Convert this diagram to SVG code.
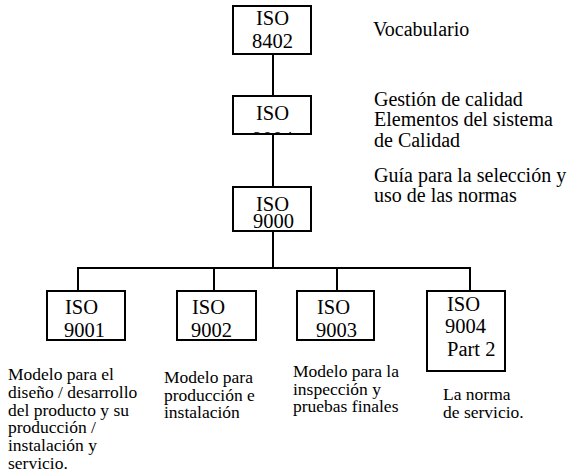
<svg xmlns="http://www.w3.org/2000/svg" width="583" height="476" viewBox="0 0 583 476">
<style>
.box{fill:#fff;stroke:#000;stroke-width:2}
.ln{stroke:#000;stroke-width:2;fill:none}
</style>
<defs>
<clipPath id="c9004"><rect x="233" y="96" width="78" height="38"/></clipPath>
</defs>
<rect width="583" height="476" fill="#fff"/>
<g id="connectors">
<line class="ln" x1="273" y1="54" x2="273" y2="96"/>
<line class="ln" x1="273" y1="134" x2="273" y2="187"/>
<line class="ln" x1="273" y1="231" x2="273" y2="268"/>
<line class="ln" x1="77" y1="268" x2="471" y2="268"/>
<line class="ln" x1="78" y1="268" x2="78" y2="291"/>
<line class="ln" x1="214" y1="268" x2="214" y2="291"/>
<line class="ln" x1="337" y1="268" x2="337" y2="291"/>
<line class="ln" x1="470" y1="268" x2="470" y2="291"/>
</g>
<g id="iso8402">
<rect class="box" x="233" y="6" width="78" height="48"/>
<text x="256" y="25" font-family="Liberation Serif" font-size="20.5">ISO</text>
<text x="252" y="48" font-family="Liberation Serif" font-size="20.5">8402</text>
</g>
<g id="iso9004">
<rect class="box" x="233" y="96" width="78" height="38"/>
<g clip-path="url(#c9004)">
<text x="256" y="120" font-family="Liberation Serif" font-size="20.5">ISO</text>
<text x="252" y="146" font-family="Liberation Serif" font-size="20.5">9004</text>
</g>
</g>
<g id="iso9000">
<rect class="box" x="233" y="187" width="78" height="44"/>
<text x="256" y="211" font-family="Liberation Serif" font-size="20.5">ISO</text>
<text x="253" y="228" font-family="Liberation Serif" font-size="20.5">9000</text>
</g>
<g id="iso9001">
<rect class="box" x="47" y="291" width="78" height="49"/>
<text x="65" y="314" font-family="Liberation Serif" font-size="20.5">ISO</text>
<text x="64" y="337" font-family="Liberation Serif" font-size="20.5">9001</text>
</g>
<g id="iso9002">
<rect class="box" x="177" y="291" width="79" height="49"/>
<text x="192" y="314" font-family="Liberation Serif" font-size="20.5">ISO</text>
<text x="191" y="337" font-family="Liberation Serif" font-size="20.5">9002</text>
</g>
<g id="iso9003">
<rect class="box" x="297" y="291" width="77" height="49"/>
<text x="317" y="314" font-family="Liberation Serif" font-size="20.5">ISO</text>
<text x="316" y="337" font-family="Liberation Serif" font-size="20.5">9003</text>
</g>
<g id="iso9004p2">
<rect class="box" x="427" y="291" width="78" height="80"/>
<text x="447" y="311" font-family="Liberation Serif" font-size="20.5">ISO</text>
<text x="445" y="333" font-family="Liberation Serif" font-size="20.5">9004</text>
<text x="447" y="356" font-family="Liberation Serif" font-size="20.5">Part 2</text>
</g>
<g id="labels-right">
<text x="373" y="36" font-family="Liberation Serif" font-size="20">Vocabulario</text>
<text x="374" y="106" font-family="Liberation Serif" font-size="20">Gestión de calidad</text>
<text x="374" y="126" font-family="Liberation Serif" font-size="20">Elementos del sistema</text>
<text x="374" y="147" font-family="Liberation Serif" font-size="20">de Calidad</text>
<text x="374" y="182" font-family="Liberation Serif" font-size="20">Guía para la selección y</text>
<text x="374" y="202" font-family="Liberation Serif" font-size="20">uso de las normas</text>
</g>
<g id="labels-bottom">
<text x="8" y="380" font-family="Liberation Serif" font-size="17.5">Modelo para el</text>
<text x="8" y="398" font-family="Liberation Serif" font-size="17.5">diseño / desarrollo</text>
<text x="8" y="416" font-family="Liberation Serif" font-size="17.5">del producto y su</text>
<text x="8" y="433" font-family="Liberation Serif" font-size="17.5">producción /</text>
<text x="8" y="451" font-family="Liberation Serif" font-size="17.5">instalación y</text>
<text x="8" y="469" font-family="Liberation Serif" font-size="17.5">servicio.</text>
<text x="164" y="383" font-family="Liberation Serif" font-size="17.5">Modelo para</text>
<text x="164" y="401" font-family="Liberation Serif" font-size="17.5">producción e</text>
<text x="164" y="418" font-family="Liberation Serif" font-size="17.5">instalación</text>
<text x="293" y="377" font-family="Liberation Serif" font-size="17.5">Modelo para la</text>
<text x="293" y="395" font-family="Liberation Serif" font-size="17.5">inspección y</text>
<text x="293" y="412" font-family="Liberation Serif" font-size="17.5">pruebas finales</text>
<text x="443" y="400" font-family="Liberation Serif" font-size="17.5">La norma</text>
<text x="443" y="418" font-family="Liberation Serif" font-size="17.5">de servicio.</text>
</g>
</svg>
